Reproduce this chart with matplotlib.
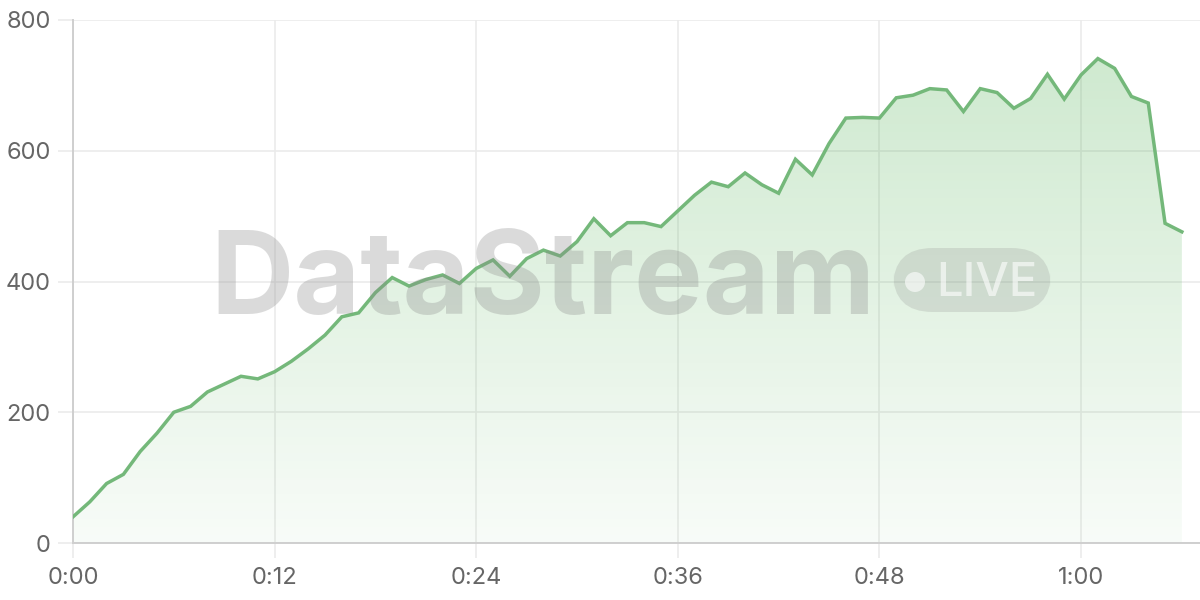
import numpy as np
import matplotlib
matplotlib.use("Agg")
import matplotlib.pyplot as plt
from matplotlib.patches import FancyBboxPatch, Circle
from matplotlib.colors import LinearSegmentedColormap
from matplotlib.ticker import FixedLocator, FixedFormatter

plt.rcParams["font.family"] = ["Inter", "DejaVu Sans"]

# ── data: one reading per minute ─────────────────────────────────────────────
minutes = list(range(67))
values = [40, 63, 91, 105, 140, 168, 200, 209, 231, 243, 255, 251, 262,
          278, 297, 318, 346, 352, 383, 406, 393, 403, 410, 397, 420, 433,
          408, 435, 448, 439, 461, 496, 470, 490, 490, 484, 508, 532, 552,
          545, 566, 548, 535, 587, 563, 611, 650, 651, 650, 681, 685, 695,
          693, 660, 695, 689, 665, 680, 717, 679, 716, 741, 726, 683, 673,
          489, 476]
x_ticks = [0, 12, 24, 36, 48, 60]
x_labels = ["0:00", "0:12", "0:24", "0:36", "0:48", "1:00"]
y_ticks = [0, 200, 400, 600, 800]

LINE = "#74b87a"
GRID = "#ebebeb"
AXIS = "#cfcfcf"
TXT = "#666666"

fig = plt.figure(figsize=(12, 6), dpi=100, facecolor="white")
ax = fig.add_axes([73 / 1200, 1 - 543 / 600, 1127 / 1200, 523 / 600])
ax.set_xlim(0, 67.08)
ax.set_ylim(0, 800)

# gradient fill under the line
cmap = LinearSegmentedColormap.from_list(
    "g", [(0.30, 0.69, 0.31, 0.04), (0.30, 0.69, 0.31, 0.27)])
grad = np.linspace(0, 1, 256).reshape(-1, 1)
im = ax.imshow(grad, cmap=cmap, origin="lower", aspect="auto",
               extent=[0, max(minutes), 0, max(values)], zorder=1)
poly = ax.fill_between(minutes, values, 0, color="none", lw=0)
im.set_clip_path(poly.get_paths()[0], transform=ax.transData)

ax.plot(minutes, values, color=LINE, lw=2.5, zorder=5,
        solid_joinstyle="miter")

# axes styling
for s in ["top", "right"]:
    ax.spines[s].set_visible(False)
for s in ["left", "bottom"]:
    ax.spines[s].set_color(AXIS)
    ax.spines[s].set_linewidth(1.4)
ax.xaxis.set_major_locator(FixedLocator(x_ticks))
ax.xaxis.set_major_formatter(FixedFormatter(x_labels))
ax.set_yticks(y_ticks)
ax.tick_params(axis="both", colors=GRID, labelcolor=TXT, labelsize=17,
               length=11, width=1.2)
ax.tick_params(axis="y", pad=5)
ax.tick_params(axis="x", pad=6)
ax.grid(True, color=GRID, lw=1.2, zorder=0)
ax.set_axisbelow(True)

# watermark
fig.text(210 / 1200, 1 - 314 / 600, "DataStream", fontsize=83,
         fontweight="bold", color="#8a8a8a", alpha=0.31, zorder=3,
         ha="left", va="baseline")
pill = FancyBboxPatch((893 / 1200, 1 - 312 / 600), 158 / 1200, 64 / 600,
                      boxstyle="round,pad=0,rounding_size=0.033",
                      transform=fig.transFigure, facecolor="#8a8a8a",
                      alpha=0.22, lw=0, zorder=3,
                      mutation_aspect=2.0)
fig.add_artist(pill)
dot = Circle((915 / 100, 6 - 282 / 100), 10 / 100,
             transform=fig.dpi_scale_trans, facecolor="white", alpha=0.6,
             lw=0, zorder=4)
fig.add_artist(dot)
fig.text(936 / 1200, 1 - 296 / 600, "LIVE", fontsize=34, fontweight="medium",
         color="white", alpha=0.6, zorder=4, ha="left", va="baseline")

fig.savefig("out.png", dpi=100, facecolor="white")
